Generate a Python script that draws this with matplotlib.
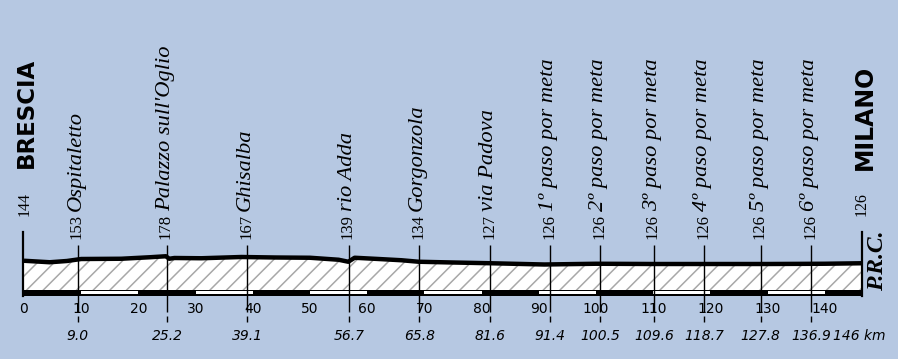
import matplotlib
matplotlib.use('Agg')
import matplotlib.pyplot as plt
import matplotlib.transforms as mtransforms

# altimetry profile (km, metres)
profile_km = [0, 4.5, 7.5, 10, 17, 22, 24.8, 25.4, 26.3, 31, 38, 44, 50, 55,
              56.7, 57.8, 62, 66, 69, 75, 81.6, 91, 100, 110, 120, 130, 140, 146.5]
profile_alt = [144, 132, 142, 158, 160, 172, 180, 160, 166, 164, 174, 170, 168, 152,
               136, 168, 158, 148, 136, 130, 124, 114, 120, 118, 118, 118, 120, 124]

# intermediate points
marker_km = [9.4, 25.0, 39.0, 56.8, 69.1, 81.5, 92.0, 100.7, 110.1, 118.9, 128.8, 137.6]
marker_dist = ['9.0', '25.2', '39.1', '56.7', '65.8', '81.6', '91.4', '100.5',
               '109.6', '118.7', '127.8', '136.9']
marker_alt = ['153', '178', '167', '139', '134', '127', '126', '126', '126', '126', '126', '126']
marker_name = ['Ospitaletto', "Palazzo sull'Oglio", 'Ghisalba', 'rio Adda', 'Gorgonzola',
               'via Padova', '1º paso por meta', '2º paso por meta', '3º paso por meta',
               '4º paso por meta', '5º paso por meta', '6º paso por meta']

start_name, start_alt = 'BRESCIA', '144'
finish_name, finish_alt = 'MILANO', '126'
finish_km = 146
km_ticks = [0, 10, 20, 30, 40, 50, 60, 70, 80, 90, 100, 110, 120, 130, 140]

bg = '#b6c8e2'
plt.rcParams['hatch.linewidth'] = 1.1

W, H = 898, 359
fig = plt.figure(figsize=(W / 100, H / 100), dpi=100)
fig.patch.set_facecolor(bg)

# axes: 23..862 px horizontally, 232..296 px vertically
ax = fig.add_axes([23 / W, (H - 296) / H, 839 / W, 64 / H])
ax.set_facecolor(bg)
x0, x1 = -0.17, 146.5
ax.set_xlim(x0, x1)
ax.set_ylim(-138, 374)
base = -90

for s in ['top', 'bottom']:
    ax.spines[s].set_visible(False)
for s in ['left', 'right']:
    ax.spines[s].set_linewidth(1.6)
ax.set_yticks([])
ax.set_xticks(km_ticks)
ax.set_xticklabels([str(t) for t in km_ticks], fontsize=10, family='DejaVu Sans')
ax.tick_params(axis='x', length=0, pad=4)

# hatched profile
ax.fill_between(profile_km, base, profile_alt, facecolor='white', edgecolor='#a8a8a8',
                hatch='//', linewidth=0, zorder=1)
ax.plot(profile_km, profile_alt, color='black', lw=3.2, solid_capstyle='butt', zorder=3)

# distance bar
ax.broken_barh([(x0, x1 - x0)], (-138, 48), facecolor='black', zorder=2)
ax.broken_barh([(t, 10) for t in km_ticks[1::2]], (-124, 24), facecolor='white', zorder=2)

# pixel helper: y from top of image -> inches from bottom
def fy(y):
    return (H - y) / 100

trans = mtransforms.blended_transform_factory(ax.transData, fig.dpi_scale_trans)
base_off = mtransforms.offset_copy(trans, fig=fig, x=3, y=0, units='dots')

ax.vlines(marker_km, fy(322), fy(245), color='black', lw=1.0, transform=trans,
          clip_on=False, zorder=4, linestyles=[(0, (4.3, 2.9, 60, 10))])

for km, d, a, n in zip(marker_km, marker_dist, marker_alt, marker_name):
    ax.text(km, fy(336), d, transform=trans, ha='center', va='center', fontsize=10,
            style='italic', family='DejaVu Sans')
    ax.text(km, fy(239), a, transform=base_off, rotation=90, rotation_mode='anchor',
            ha='left', va='baseline', fontsize=12, family='Liberation Serif')
    ax.text(km, fy(211), n, transform=base_off, rotation=90, rotation_mode='anchor',
            ha='left', va='baseline', fontsize=16.2, style='italic', family='Liberation Serif')

ax.text(finish_km, fy(336), f'{finish_km} km', transform=trans, ha='center', va='center',
        fontsize=10, style='italic', family='DejaVu Sans')

# start / finish
ax.text(x0, fy(216), start_alt, transform=mtransforms.offset_copy(trans, fig=fig, x=6, units='dots'),
        rotation=90, rotation_mode='anchor', ha='left', va='baseline', fontsize=11.5,
        family='Liberation Serif')
ax.text(x1, fy(216), finish_alt, transform=mtransforms.offset_copy(trans, fig=fig, x=4, units='dots'),
        rotation=90, rotation_mode='anchor', ha='left', va='baseline', fontsize=11.5,
        family='Liberation Serif')
ax.text(x0, fy(168), start_name, transform=mtransforms.offset_copy(trans, fig=fig, x=10, units='dots'),
        rotation=90, rotation_mode='anchor', ha='left', va='baseline', fontsize=16.5,
        fontweight='bold', family='DejaVu Sans')
ax.text(x1, fy(170), finish_name, transform=mtransforms.offset_copy(trans, fig=fig, x=10, units='dots'),
        rotation=90, rotation_mode='anchor', ha='left', va='baseline', fontsize=17,
        fontweight='bold', family='DejaVu Sans')
ax.text(x1, fy(261), 'P.R.C.', transform=mtransforms.offset_copy(trans, fig=fig, x=16, units='dots'),
        rotation=90, ha='center', va='center', fontsize=17, fontweight='bold',
        style='italic', family='Liberation Serif')

fig.savefig('out.png', dpi=100, facecolor=bg)
